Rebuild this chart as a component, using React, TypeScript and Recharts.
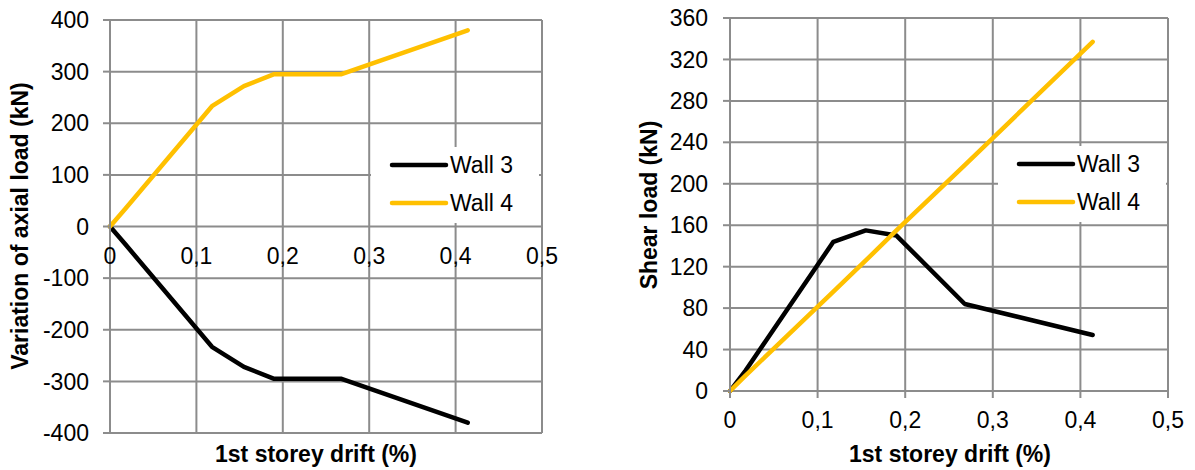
import { LineChart, Line, XAxis, YAxis, CartesianGrid, Legend } from 'recharts'

const drift = [0, 0.018, 0.118, 0.155, 0.19, 0.268, 0.414]
const axialWall3 = [0, -35, -233, -272, -295, -295, -380]
const axialWall4 = [0, 35, 233, 272, 295, 295, 380]
const shearWall3 = [0, 20, 144, 155, 150, 84, 54]
const shearWall4 = [0, 15, 96, 126, 155, 218, 337]

const driftTicks = [0, 0.1, 0.2, 0.3, 0.4, 0.5]
const axialTicks = [-400, -300, -200, -100, 0, 100, 200, 300, 400]
const shearTicks = [0, 40, 80, 120, 160, 200, 240, 280, 320, 360]

const FONT = '"Liberation Sans", Arial, sans-serif'
const GRID = '#8c8c8c'
const BLACK = '#000000'
const YELLOW = '#ffc000'

const axialData = drift.map((d, i) => ({ drift: d, w3: axialWall3[i], w4: axialWall4[i] }))
const shearData = drift.map((d, i) => ({ drift: d, w3: shearWall3[i], w4: shearWall4[i] }))

const fmt = (v: number) => String(v).replace('.', ',')

// plot boxes
const L = { w: 600, h: 470, top: 20, bottom: 433, left: 110, right: 542 }
const R = { w: 595, h: 470, top: 18, bottom: 391, left: 130, right: 568 }

const leftZeroY = L.top + (L.bottom - L.top) * (400 / 800)
const rightZeroY = R.bottom

function makeTick(zeroY: number) {
  return (props: any) => (
    <text x={props.x} y={zeroY + 29} dy="0.355em" textAnchor="middle"
      fontFamily={FONT} fontSize={23} fill={BLACK}>
      {fmt(props.payload.value)}
    </text>
  )
}

function LegendBox(props: any) {
  const items = props.payload || []
  return (
    <svg width={168} height={76} style={{ display: 'block', background: '#fff' }}>
      {items.map((it: any, i: number) => {
        const y = 18 + i * 38
        return (
          <g key={i}>
            <line x1={21} x2={75} y1={y} y2={y} stroke={it.color} strokeWidth={4.5} strokeLinecap="round" />
            <text x={79} y={y} dy="0.355em" fontFamily={FONT} fontSize={23} fill={BLACK}>{it.value}</text>
          </g>
        )
      })}
    </svg>
  )
}

const title: React.CSSProperties = {
  position: 'absolute', fontFamily: FONT, fontSize: 23, fontWeight: 'bold',
  lineHeight: 1, whiteSpace: 'nowrap', color: BLACK,
}

export default function App() {
  return (
    <div style={{ position: 'absolute', left: 0, top: 0, width: 1195, height: 470, background: '#fff' }}>
      <div style={{ position: 'absolute', left: 0, top: 0 }}>
        <LineChart width={L.w} height={L.h} data={axialData}
          margin={{ top: L.top, right: L.w - L.right, left: 0, bottom: 0 }}>
          <CartesianGrid stroke={GRID} strokeWidth={2} />
          <XAxis dataKey="drift" type="number" domain={[0, 0.5]} ticks={driftTicks}
            height={L.h - L.bottom} axisLine={false} tickLine={false} tick={makeTick(leftZeroY)} />
          <YAxis type="number" domain={[-400, 400]} ticks={axialTicks} width={L.left}
            axisLine={{ stroke: GRID, strokeWidth: 2 }} tickLine={{ stroke: GRID, strokeWidth: 2 }}
            tickSize={7} tickMargin={14}
            tick={{ fontFamily: FONT, fontSize: 23, fill: BLACK }} />
          <Legend layout="vertical" align="center" verticalAlign="middle" content={LegendBox}
            wrapperStyle={{ left: 371, top: 147, width: 168, height: 76 }} />
          <Line type="linear" dataKey="w3" name="Wall 3" stroke={BLACK} strokeWidth={4.5} dot={false}
            activeDot={false} strokeLinecap="round" strokeLinejoin="round" isAnimationActive={false} />
          <Line type="linear" dataKey="w4" name="Wall 4" stroke={YELLOW} strokeWidth={4.5} dot={false}
            activeDot={false} strokeLinecap="round" strokeLinejoin="round" isAnimationActive={false} />
        </LineChart>
      </div>
      <div style={{ position: 'absolute', left: 600, top: 0 }}>
        <LineChart width={R.w} height={R.h} data={shearData}
          margin={{ top: R.top, right: R.w - R.right, left: 0, bottom: 0 }}>
          <CartesianGrid stroke={GRID} strokeWidth={2} />
          <XAxis dataKey="drift" type="number" domain={[0, 0.5]} ticks={driftTicks}
            height={R.h - R.bottom} axisLine={false} tickLine={{ stroke: GRID, strokeWidth: 2 }}
            tickSize={7} tick={makeTick(rightZeroY)} />
          <YAxis type="number" domain={[0, 360]} ticks={shearTicks} width={R.left}
            axisLine={{ stroke: GRID, strokeWidth: 2 }} tickLine={{ stroke: GRID, strokeWidth: 2 }}
            tickSize={7} tickMargin={15}
            tick={{ fontFamily: FONT, fontSize: 23, fill: BLACK }} />
          <Legend layout="vertical" align="center" verticalAlign="middle" content={LegendBox}
            wrapperStyle={{ left: 398, top: 146, width: 168, height: 76 }} />
          <Line type="linear" dataKey="w3" name="Wall 3" stroke={BLACK} strokeWidth={4.5} dot={false}
            activeDot={false} strokeLinecap="round" strokeLinejoin="round" isAnimationActive={false} />
          <Line type="linear" dataKey="w4" name="Wall 4" stroke={YELLOW} strokeWidth={4.5} dot={false}
            activeDot={false} strokeLinecap="round" strokeLinejoin="round" isAnimationActive={false} />
        </LineChart>
      </div>
      <div style={{ ...title, left: 20, top: 226, transform: 'translate(-50%, -50%) rotate(-90deg)' }}>
        Variation of axial load (kN)
      </div>
      <div style={{ ...title, left: 316, top: 443, transform: 'translateX(-50%)' }}>
        1st storey drift (%)
      </div>
      <div style={{ ...title, left: 649, top: 205, transform: 'translate(-50%, -50%) rotate(-90deg)' }}>
        Shear load (kN)
      </div>
      <div style={{ ...title, left: 950, top: 443, transform: 'translateX(-50%)' }}>
        1st storey drift (%)
      </div>
    </div>
  )
}
